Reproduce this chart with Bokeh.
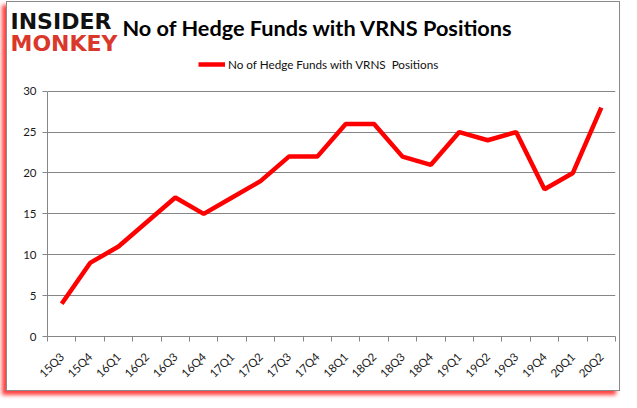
from bokeh.plotting import figure
from bokeh.models import Range1d, FixedTicker, Legend, LegendItem, Title
from bokeh.embed import file_html
from bokeh.resources import INLINE
import math

quarters = ["15Q3", "15Q4", "16Q1", "16Q2", "16Q3", "16Q4", "17Q1", "17Q2", "17Q3", "17Q4",
            "18Q1", "18Q2", "18Q3", "18Q4", "19Q1", "19Q2", "19Q3", "19Q4", "20Q1", "20Q2"]
funds = [4, 9, 11, 14, 17, 15, 17, 19, 22, 22, 26, 26, 22, 21, 25, 24, 25, 18, 20, 28]
y_ticks = [0, 5, 10, 15, 20, 25, 30]
title_text = "No of Hedge Funds with VRNS Positions"
series_name = "No of Hedge Funds with VRNS  Positions"
logo_top = "INSIDER"
logo_bottom = "MONKEY"

LINE_COLOR = "#ff0000"
GRID_COLOR = "#868686"

# frame geometry (pixels inside the figure)
W, H = 614, 390
FRAME_LEFT, FRAME_RIGHT = 40, 608
FRAME_TOP, FRAME_BOTTOM = 50, 334
Y30_PIX = 88.7   # where the value 30 sits
y_max = max(y_ticks)
y_end = y_max * (FRAME_BOTTOM - FRAME_TOP) / (FRAME_BOTTOM - Y30_PIX)

xs = list(range(len(quarters)))
p = figure(width=W, height=H, output_backend="svg", toolbar_location=None,
           x_range=Range1d(-0.5, len(quarters) - 0.5), y_range=Range1d(0, y_end),
           min_border_left=FRAME_LEFT, min_border_right=W - FRAME_RIGHT,
           min_border_top=FRAME_TOP, min_border_bottom=H - FRAME_BOTTOM)
p.outline_line_color = None
p.background_fill_color = "white"
p.border_fill_color = "white"
p.styles = {"border": "1px solid #8a8a8a",
            "box-shadow": "-4px 4px 4px rgba(255,0,0,0.75)",
            "margin-left": "6px", "margin-top": "1px"}

r = p.line(xs, funds, line_color=LINE_COLOR, line_width=4.5)

# titles stacked above the frame (first added = nearest the frame)
p.add_layout(Title(text=logo_bottom, align="left", offset=3 - FRAME_LEFT, standoff=-6.4,
                   vertical_align="bottom", text_font="DejaVu Sans", text_font_style="bold",
                   text_font_size="22px", text_color="#d9382b"), "above")
p.add_layout(Title(text=title_text, align="left", offset=75, standoff=-18.7,
                   vertical_align="bottom", text_font="Lato", text_font_style="bold",
                   text_font_size="21.7px", text_color="#000000"), "above")
p.add_layout(Title(text=logo_top, align="left", offset=3 - FRAME_LEFT, standoff=-23.6,
                   vertical_align="bottom", text_font="DejaVu Sans", text_font_style="bold",
                   text_font_size="22px", text_color="#111111"), "above")

legend = Legend(items=[LegendItem(label=series_name, renderers=[r])],
                location=(151, 262), orientation="horizontal",
                border_line_color=None, background_fill_alpha=0,
                padding=0, margin=0, glyph_width=27, glyph_height=20, label_height=20,
                label_standoff=3,
                label_text_font="Lato", label_text_font_size="11.7px",
                label_text_color="#111111")
p.add_layout(legend, "center")

p.xaxis.ticker = FixedTicker(ticks=xs, minor_ticks=[i - 0.5 for i in range(len(quarters) + 1)])
p.xaxis.major_label_overrides = {i: q for i, q in enumerate(quarters)}
p.xaxis.major_label_orientation = math.pi / 4
p.xaxis.major_tick_out = 0
p.xaxis.major_tick_in = 0
p.xaxis.minor_tick_out = 5
p.xaxis.minor_tick_in = 0
p.xaxis.minor_tick_line_color = GRID_COLOR
p.yaxis.ticker = FixedTicker(ticks=y_ticks)
p.yaxis.bounds = (0, y_max)
p.yaxis.major_tick_out = 5
p.yaxis.major_tick_in = 0
p.yaxis.minor_tick_line_color = None
for ax in (p.xaxis, p.yaxis):
    ax.axis_line_color = GRID_COLOR
    ax.major_tick_line_color = GRID_COLOR
    ax.major_label_text_font = "Lato"
    ax.major_label_text_font_size = "11.5px"
    ax.major_label_text_color = "#1a1a1a"
p.yaxis.major_label_standoff = 6
p.xaxis.major_label_standoff = 13
p.xgrid.grid_line_color = None
p.ygrid.ticker = FixedTicker(ticks=y_ticks)
p.ygrid.grid_line_color = GRID_COLOR

open("out.html", "w").write(file_html(p, INLINE))
